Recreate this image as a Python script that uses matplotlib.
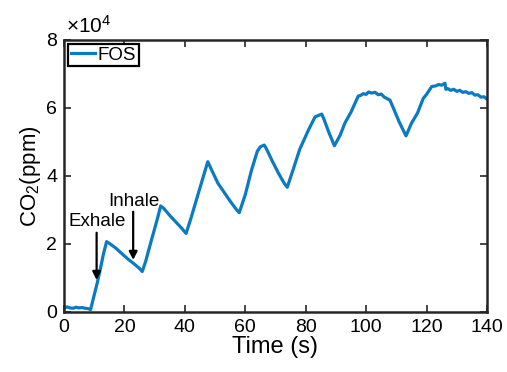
import matplotlib
matplotlib.use("Agg")
from matplotlib import pyplot as plt
from matplotlib.ticker import FuncFormatter

plt.rcParams['font.family'] = ['Liberation Sans', 'DejaVu Sans']
plt.rcParams['mathtext.fontset'] = 'custom'
plt.rcParams['mathtext.rm'] = 'Liberation Sans'
plt.rcParams['mathtext.it'] = 'Liberation Sans:italic'

# FOS CO2 trace over the breathing cycles
time = [0, 1, 2, 3, 4, 5, 6, 7, 8, 8.8, 10, 11, 12, 13, 14.1,
        15, 17, 19, 21, 23, 25, 25.9, 27, 28.5, 30, 31, 32,
        33, 35, 37, 39, 40.4, 42, 44, 46, 47.6,
        49, 51, 53, 55, 57, 58, 60, 62, 64, 65, 66.3, 67,
        69, 71, 73, 73.9, 76, 78, 80.9, 83.1, 85.3, 86, 87.5, 89.5,
        91.4, 93, 95, 97.4, 98.2, 99, 100, 100.8, 101.8, 103, 104, 105, 106, 107.9,
        109, 111, 113.2, 115, 117, 118.9, 120, 121.7, 123, 124, 125, 126.1, 126.4,
        127, 128, 129, 130, 131, 132, 133, 134, 135, 136, 137, 138, 139, 140]
co2 = [1200, 1500, 1200, 1100, 1400, 1200, 1300, 1100, 1000, 700, 5000, 8500, 12500, 16800, 20700,
       20200, 18900, 17300, 15700, 14300, 12800, 11900, 14800, 19700, 24500, 27700, 31200,
       30500, 28400, 26500, 24600, 23100, 27500, 33500, 39500, 44200,
       41500, 37800, 35200, 32600, 30200, 29200, 34500, 41500, 47300, 48600, 49100, 48000,
       44300, 40800, 37700, 36700, 42300, 47800, 53500, 57400, 58200, 56800, 53200, 48900,
       52000, 55600, 58800, 63500, 63700, 64200, 64000, 64700, 64400, 64600, 63900, 64100, 63200, 62300,
       60000, 55800, 51800, 55500, 58500, 62800, 64000, 66300, 66500, 66900, 66700, 67300, 65500,
       65700, 65200, 65500, 64900, 65200, 64600, 64800, 64300, 64500, 63800, 63900, 63200, 63300, 62600]

# arrow annotations: (label, x, text y, arrow tail y, arrow tip y)
notes = [("Exhale", 10.8, 26500, 23300, 9400),
         ("Inhale", 22.9, 32400, 29500, 15300)]

fig = plt.figure(figsize=(5.07, 3.72), dpi=100)
ax = fig.add_axes([0.1262, 0.1613, 0.8343, 0.7312])

ax.plot(time, co2, color='#0A7BC2', lw=2.3, label='FOS')

for label, x, ty, y0, y1 in notes:
    ax.annotate('', xy=(x, y1), xytext=(x, y0),
                arrowprops=dict(arrowstyle='-|>', color='black', lw=1.6,
                                mutation_scale=12, shrinkA=0, shrinkB=0))
    ax.text(x + 0.3, ty, label, ha='center', va='center', fontsize=13.5)

ax.set_xlim(0, 140)
ax.set_ylim(0, 80000)
ax.set_xticks([0, 20, 40, 60, 80, 100, 120, 140])
ax.set_yticks([0, 20000, 40000, 60000, 80000])
ax.yaxis.set_major_formatter(FuncFormatter(lambda v, p: '%g' % (v / 1e4)))
ax.text(0.005, 1.01, r'$\times10^{4}$', transform=ax.transAxes, fontsize=15,
        ha='left', va='bottom')

ax.tick_params(direction='in', length=5, width=1.2, labelsize=14, pad=5,
               top=True, right=True, colors='#262626', labelcolor='black')
for s in ax.spines.values():
    s.set_linewidth(1.8)
    s.set_color('#262626')

ax.set_xlabel('Time (s)', fontsize=17, labelpad=0)
ax.set_ylabel(r'CO$_2$(ppm)', fontsize=16, labelpad=2)

leg = ax.legend(loc='upper left', fontsize=13.5, handlelength=1.3, handletextpad=0.15,
                borderpad=0.15, borderaxespad=0.2, fancybox=False, framealpha=1)
leg.get_frame().set_edgecolor('black')
leg.get_frame().set_linewidth(1.6)

fig.savefig('out.png', dpi=100)
